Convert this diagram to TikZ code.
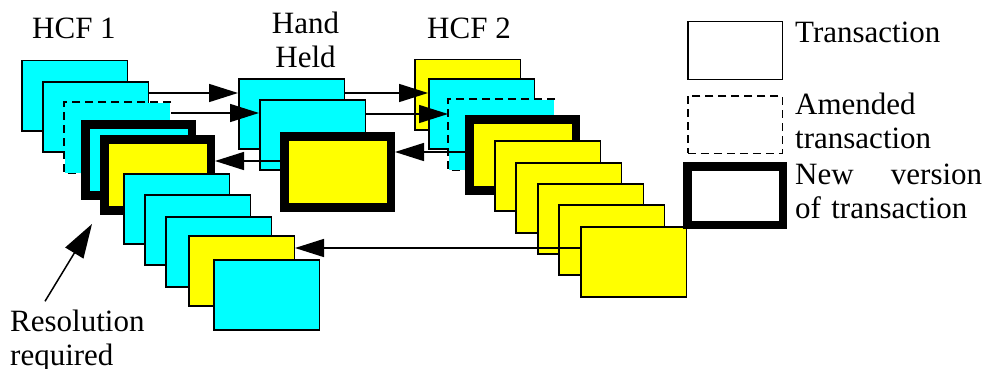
\documentclass[tikz,border=0pt]{standalone}
\usepackage{fontspec}
\setmainfont{Liberation Serif}
\usetikzlibrary{arrows.meta,calc}
\definecolor{cyanbox}{RGB}{0,255,255}
\definecolor{yelbox}{RGB}{255,255,0}
\begin{document}
\begin{tikzpicture}[x=1pt,y=-1pt,
  box/.style={draw=black, line width=1.5pt, minimum width=105.5pt, minimum height=70pt, inner sep=0pt, outer sep=0.75pt, anchor=north west},
  cy/.style={box, fill=cyanbox},
  ye/.style={box, fill=yelbox},
  wh/.style={box, fill=white, minimum width=94.5pt, minimum height=57.5pt},
  amend/.style={dash pattern=on 8pt off 5pt},
  amendfill/.style={box, draw=none, fill=cyanbox},
  amendedge/.style={draw=black, line width=1.5pt, dash pattern=on 8pt off 5pt},
  newv/.style={line width=8.5pt, outer sep=4.25pt, minimum width=106.5pt, minimum height=71pt},
  arr/.style={line width=1.5pt, -{Triangle[length=29pt,width=18pt]}},
  lbl/.style={font=\fontsize{31}{34}\selectfont, inner sep=0pt},
]
\useasboundingbox (0,0) rectangle (987,369);
% HCF 1 stack
\node[cy] (a1) at (21,60) {};
\node[cy] (a2) at (42,81) {};
\node[amendfill] (a3) at (64,102) {};
\draw[amendedge] (a3.north east) -- (a3.north west) -- (a3.south west) -- (a3.south east);
\node[cy, newv] (a4) at (81,120) {};
\node[ye, newv] (a5) at (100,135) {};
\node[cy] (a6) at (123,173) {};
\node[cy] (a7) at (144,194) {};
\node[cy] (a8) at (165,216) {};
\node[ye] (a9) at (188,235) {};
\node[cy] (a10) at (213,259) {};
% Hand held stack
\node[cy] (h1) at (238,78) {};
\node[cy] (h2) at (259,99) {};
\node[ye, newv] (h3) at (280,132) {};
% HCF 2 stack
\node[ye] (b1) at (414,59) {};
\node[cy] (b2) at (428,78) {};
\node[amendfill] (b3) at (448,99) {};
\draw[amendedge] (b3.north east) -- (b3.north west) -- (b3.south west) -- (b3.south east);
\node[ye, newv] (b4) at (465,115) {};
\node[ye] (b5) at (494,140) {};
\node[ye] (b6) at (515,162) {};
\node[ye] (b7) at (537,183) {};
\node[ye] (b8) at (558,204) {};
\node[ye] (b9) at (580,226) {};
% Legend
\node[wh] (l1) at (687,21) {};
\node[wh, amend] (l2) at (687,95) {};
\node[wh, newv, minimum width=95.5pt, minimum height=58.5pt] (l3) at (683,162) {};
% Labels
\node[lbl, anchor=base, align=center] (t2) at (305.5,67) {Hand\\Held};
\node[lbl, anchor=base west] (t1) at (32,39) {HCF 1};
\node[lbl, anchor=base west] (t3) at (427,39) {HCF 2};
\node[lbl, anchor=base west, align=left] (t4) at (10,365) {Resolution\\required};
\node[lbl, anchor=base west] (t5) at (795,43) {Transaction};
\node[lbl, anchor=base west, align=left] (t6) at (795,148) {Amended\\transaction};
\node[lbl, anchor=base west, align=left, text width=187pt] (t7) at (795,184) {New\hfill version\\of transaction};
% Connectors
\draw[arr] (a2.east |- 0,93) -- (h1.west |- 0,93);
\draw[arr] (a3.east |- 0,113) -- (h2.west |- 0,113);
\draw[arr] (h3.west |- 0,161) -- (a5.east |- 0,161);
\draw[arr] (h1.east |- 0,93) -- (b2.west |- 0,93);
\draw[arr] (h2.east |- 0,114) -- (b3.west |- 0,114);
\draw[arr] (b4.west |- 0,152) -- (h3.east |- 0,152);
\draw[arr] (b9.west |- 0,248) -- (a9.east |- 0,248);
\coordinate (rtip) at (92,224);
\draw[line width=1.5pt, -{Triangle[length=34pt,width=21pt]}] ([xshift=35pt,yshift=8pt]t4.north west) -- (rtip);
\end{tikzpicture}
\end{document}
